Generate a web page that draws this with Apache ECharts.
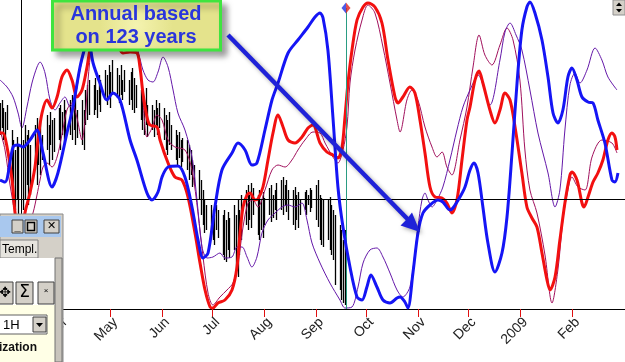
<!DOCTYPE html>
<html><head><meta charset="utf-8">
<script src="https://cdn.jsdelivr.net/npm/echarts@6/dist/echarts.min.js"></script>
<style>html,body{margin:0;padding:0;background:#fff}#c{width:625px;height:362px}</style>
</head><body><div id="c"></div><script>
// x = days since 2008-02-25 ; y = cycle index (0 = bottom of chart)
const baseDate = Date.UTC(2008, 1, 25);
const monthStarts = ['2008-03-01','2008-04-01','2008-05-01','2008-06-01','2008-07-01','2008-08-01','2008-09-01','2008-10-01','2008-11-01','2008-12-01','2009-01-01','2009-02-01'];
const monthNames = ['Jan','Feb','Mar','Apr','May','Jun','Jul','Aug','Sep','Oct','Nov','Dec'];

// thick blue: annual cycle based on 123 years
const blueCycle = [[0,129],[3.0,127],[7.8,162],[10.8,164],[13.7,162],[17.9,169],[22.1,179],[25.7,156],[31.1,122],[34.6,136],[40.0,176],[43.6,202],[47.8,242],[50.8,262],[52.6,271],[55.6,246],[59.7,226],[63.9,209],[67.5,216],[71.7,209],[77.7,169],[81.8,149],[87.8,116],[90.8,109],[94.4,117],[96.8,132],[100.4,142],[106.3,143],[110.5,132],[114.7,102],[118.3,69],[121.3,51],[124.3,56],[128.4,102],[132.6,139],[138.6,156],[142.2,166],[146.4,159],[150.5,144],[153.5,146],[158.3,179],[162.5,209],[166.1,226],[172.1,256],[178.0,269],[184.0,282],[188.2,292],[191.2,296],[193.0,291],[195.9,259],[198.9,192],[201.9,122],[204.9,82],[209.1,42],[213.3,12],[216.3,9],[219.2,22],[221.6,34],[225.2,22],[228.8,9],[233.0,6],[237.2,11],[239.0,12],[241.9,7],[243.7,1],[246.7,36],[249.7,76],[252.7,96],[256.9,104],[261.7,109],[264.6,107],[268.8,99],[270.6,101],[274.8,112],[277.8,122],[280.8,139],[283.2,146],[285.6,136],[288.5,102],[291.5,66],[295.7,37],[299.9,56],[302.9,92],[305.9,156],[308.9,226],[311.8,279],[314.8,302],[316.6,307],[319.6,296],[323.8,269],[327.4,232],[330.4,196],[333.3,186],[336.3,199],[339.3,232],[341.7,241],[344.7,229],[347.7,212],[351.3,207],[354.3,206],[357.2,189],[361.4,166],[365.6,129],[367.4,127],[369.2,136]];

// thick red cycle
const redCycle = [[0,176],[1.8,176],[4.2,162],[7.2,129],[9.0,96],[11.9,64],[14.9,96],[17.9,116],[20.9,142],[22.7,169],[25.1,196],[28.1,209],[31.1,201],[34.1,212],[37.0,232],[40.0,239],[43.0,229],[46.0,212],[49.0,219],[52.0,242],[53.8,259],[57.9,279],[62.7,284],[68.7,274],[73.5,256],[77.7,257],[81.8,256],[83.6,242],[85.4,216],[87.8,192],[89.6,184],[93.8,182],[95.6,169],[100.4,146],[104.5,132],[108.7,129],[112.3,112],[116.5,76],[119.5,46],[122.5,19],[125.5,2],[127.2,1],[130.2,6],[134.4,9],[138.6,19],[141.6,42],[143.4,76],[145.2,102],[147.6,114],[149.4,116],[152.3,109],[154.1,110],[157.1,122],[160.1,149],[163.1,176],[166.1,194],[169.1,182],[172.1,169],[176.2,166],[180.4,172],[184.0,181],[187.0,184],[191.2,166],[195.3,157],[198.9,154],[201.9,151],[204.3,161],[206.1,192],[207.9,226],[210.3,259],[213.3,289],[216.9,302],[219.8,306],[224.0,302],[228.2,286],[231.8,249],[236.0,212],[237.8,206],[240.7,212],[244.9,222],[247.9,216],[250.9,189],[253.9,156],[256.9,122],[259.9,112],[264.1,111],[267.0,106],[270.0,96],[273.0,109],[276.0,149],[279.0,189],[280.8,202],[283.8,229],[286.2,238],[288.5,226],[292.7,199],[295.7,186],[298.7,199],[301.7,216],[304.7,209],[307.7,182],[311.8,136],[314.8,102],[317.8,91],[320.8,82],[323.8,56],[326.8,29],[328.6,19],[331.6,32],[334.5,69],[337.5,106],[340.5,134],[341.7,137],[344.7,129],[347.7,106],[348.9,102],[351.3,112],[354.3,127],[357.2,136],[360.2,149],[363.2,169],[365.6,176],[367.4,172],[368.6,159]];

// thin purple cycle
const purpleCycle = [[0,229],[4.2,222],[7.8,212],[10.8,196],[13.1,181],[16.1,202],[19.1,226],[22.1,242],[23.9,247],[26.9,236],[29.9,209],[32.9,199],[35.8,206],[38.8,212],[41.8,202],[44.8,212],[47.8,239],[50.8,259],[56.8,279],[65.7,289],[74.7,274],[82.4,256],[85.4,239],[88.4,229],[91.4,227],[94.4,237],[97.4,252],[100.4,242],[103.4,219],[106.3,196],[110.5,179],[114.7,152],[117.7,109],[120.7,62],[123.7,51],[127.2,52],[131.4,56],[134.4,51],[138.6,52],[141.6,62],[144.6,62],[147.6,52],[150.5,42],[153.5,52],[156.5,76],[160.1,89],[164.3,96],[168.5,102],[172.1,104],[176.2,102],[180.4,106],[183.4,89],[186.4,66],[191.2,46],[197.1,26],[203.1,9],[206.1,1],[210.3,2],[213.9,22],[216.9,46],[221.0,59],[225.2,61],[228.8,52],[233.0,36],[237.2,19],[240.7,12],[244.9,22],[247.9,56],[249.7,82],[252.1,109],[253.9,116],[255.7,109],[258.1,102],[261.1,109],[264.6,122],[268.8,149],[273.0,179],[276.6,202],[280.8,219],[285.6,234],[292.7,204],[298.7,249],[301.7,277],[304.7,286],[308.3,274],[311.8,259],[316.6,219],[321.4,176],[327.4,136],[331.6,102],[334.5,119],[337.5,179],[340.5,224],[343.5,236],[346.5,226],[350.7,239],[355.5,261],[359.6,249],[363.2,232],[368.6,219]];

// thin maroon cycle
const maroonCycle = [[0,179],[3.0,159],[6.0,124],[9.0,96],[13.1,64],[19.7,96],[22.1,114],[23.9,129],[25.7,142],[28.1,146],[31.1,142],[34.1,152],[37.0,174],[40.0,199],[43.0,206],[46.0,191],[49.0,169],[50.8,189],[52.6,229],[55.0,264],[59.7,284],[66.9,289],[74.7,279],[82.4,259],[85.4,209],[87.8,172],[90.8,181],[93.8,194],[96.8,189],[100.4,169],[104.5,162],[110.5,159],[114.7,139],[118.3,96],[121.3,52],[124.3,16],[127.2,4],[131.4,12],[135.6,19],[139.2,26],[142.2,46],[145.2,82],[148.2,106],[151.1,109],[154.1,102],[158.3,119],[162.5,139],[166.1,144],[170.3,142],[174.4,149],[178.0,159],[182.2,169],[187.0,177],[191.2,176],[194.2,166],[198.9,152],[201.9,146],[204.9,159],[207.3,182],[209.1,226],[212.1,259],[216.3,289],[219.8,304],[224.0,296],[228.8,262],[233.0,226],[237.2,189],[239.0,177],[243.1,209],[246.1,219],[249.7,209],[253.9,182],[258.1,162],[261.1,152],[264.1,157],[267.0,142],[270.0,134],[274.8,169],[279.0,202],[282.6,242],[286.2,274],[289.7,254],[293.9,244],[298.7,264],[302.9,281],[306.5,269],[310.6,229],[313.6,159],[316.6,119],[320.8,96],[325.6,54],[329.8,6],[333.3,39],[336.3,89],[338.7,114],[341.7,132],[345.3,122],[349.5,119],[353.7,152],[359.6,169],[365.6,166],[368.6,156]];

// daily price bars (trading days from 2008-02-25)
const barStart = '2008-02-25';
const barHigh = [206,209,201,197,204, 179,169,159,172,164, 169,184,174,179,164, 184,191,179,187,174, 194,184,197,189,191,
 201,204,197,209,199, 209,214,204,211,199, 209,199,219,224,229, 224,231,219,234,229, 239,234,244,237,249,
 241,234,244,229,239, 229,237,241,231,224, 219,214,209,221,204, 204,199,209,201,206, 201,194,189,197,184,
 179,174,177,169,171, 169,164,159,149,144, 139,129,119,109,104, 104,99,94,104,99, 94,99,89,97,91,
 104,94,109,99,114, 119,124,114,126,121, 114,119,109,117,111, 121,124,114,119,126, 129,132,124,129,119,
 119,122,114,117,109, 117,119,114,121,119, 124,129,114,111,109, 109,112,104,99,94, 84,79,69,79];
const barLow = [174,181,169,164,179, 129,104,99,109,94, 99,109,124,104,114, 139,124,144,134,149, 159,144,164,149,157,
 169,159,174,164,171, 174,169,179,164,171, 164,159,184,189,194, 194,199,191,204,197, 209,204,211,201,214,
 211,206,214,209,217, 204,209,199,196,201, 189,179,174,184,172, 179,172,184,174,181, 169,159,154,164,159,
 149,144,151,142,147, 139,129,134,122,124, 109,94,84,76,79, 74,69,64,79,71, 54,49,47,59,51,
 59,39,32,54,69, 84,79,89,81,94, 74,69,79,71,84, 94,87,91,99,89, 99,94,104,97,89,
 84,79,89,81,94, 99,94,104,97,101, 89,82,69,64,62, 69,59,54,49,24, 19,9,6,4];

const zeroLine = 110;       // horizontal reference level
const markerDay = 12.5;     // black vertical marker
const todayDay = 206.7;     // green "today" line
const todayTop = 301;

// ---- build ----
const DAY = 864e5;
const tickDays = monthStarts.map(s => Math.round((Date.parse(s) - baseDate) / DAY));
const labelDays = tickDays.map(d => d + 3); // labels sit just right of their tick
const barData = [];
{
  let d = Math.round((Date.parse(barStart) - baseDate) / DAY), i = 0;
  while (i < barHigh.length) {
    const wd = new Date(baseDate + d * DAY).getUTCDay();
    if (wd !== 0 && wd !== 6) { barData.push([d, barHigh[i], barLow[i]]); i++; }
    d++;
  }
}
const F = '"Liberation Sans", Arial, sans-serif';
const chart = echarts.init(document.getElementById('c'), null, {renderer: 'canvas'});
const Z = 100;
function btn(x, y, w, h, fill) {
  return {type: 'rect', z: Z, shape: {x, y, width: w, height: h}, style: {fill: fill || '#d4d0c8', stroke: '#404040', lineWidth: 1}};
}
function txt(x, y, t, font, fill, align) {
  return {type: 'text', z: Z + 1, x, y, style: {text: t, font, fill: fill || '#000', align: align || 'left', verticalAlign: 'middle'}};
}
const graphics = [
  // annotation box
  {type: 'rect', z: Z, shape: {x: 52.5, y: 1, width: 168, height: 49},
   style: {fill: new echarts.graphic.RadialGradient(0.5, 0.5, 0.7, [{offset: 0, color: '#f4f3b0'}, {offset: 1, color: '#e4e38c'}]),
           stroke: '#3fe43f', lineWidth: 3, shadowBlur: 6, shadowOffsetX: 5, shadowOffsetY: 5, shadowColor: 'rgba(0,0,0,0.35)'}},
  txt(136, 14, 'Annual based', 'bold 20px ' + F, '#2a35dc', 'center'),
  txt(136, 37, 'on 123 years', 'bold 20px ' + F, '#2a35dc', 'center'),
  // arrow
  {type: 'line', z: Z, shape: {x1: 228, y1: 35, x2: 408, y2: 219.5},
   style: {stroke: '#1f22d8', lineWidth: 4.5, shadowBlur: 4, shadowOffsetX: 2, shadowOffsetY: 2, shadowColor: 'rgba(0,0,0,0.35)'}},
  {type: 'polygon', z: Z, shape: {points: [[420, 232], [400.5, 225.5], [406, 220], [412, 212.5]]},
   style: {fill: '#1f22d8', shadowBlur: 4, shadowOffsetX: 2, shadowOffsetY: 2, shadowColor: 'rgba(0,0,0,0.35)'}},
  // top-right scroll widget
  {type: 'rect', z: Z, shape: {x: 613, y: 0, width: 12, height: 15}, style: {fill: '#d4d0c8', stroke: '#909090', lineWidth: 1}},
  {type: 'polygon', z: Z + 1, shape: {points: [[616, 6], [622, 6], [619, 2.5]]}, style: {fill: '#000'}},
  {type: 'polygon', z: Z + 1, shape: {points: [[616, 9], [622, 9], [619, 12.5]]}, style: {fill: '#000'}},
  // bottom-left dialog panel
  {type: 'rect', z: Z, shape: {x: 0, y: 214, width: 63, height: 150}, style: {fill: '#d4d0c8', stroke: '#8a8a8a', lineWidth: 1}},
  {type: 'rect', z: Z, shape: {x: 0, y: 216, width: 61, height: 21}, style: {fill: '#a9c8ee'}},
  btn(12, 220, 11, 13), txt(17.5, 227, '_', 'bold 11px ' + F, '#000', 'center'),
  btn(25, 220, 12, 13), {type: 'rect', z: Z + 1, shape: {x: 27.5, y: 222.5, width: 7, height: 8}, style: {fill: 'none', stroke: '#000', lineWidth: 1.5}},
  btn(44, 220, 15, 13), txt(51.5, 226.5, '✕', 'bold 11px "DejaVu Sans"', '#000', 'center'),
  {type: 'rect', z: Z, shape: {x: 0, y: 240, width: 38, height: 18}, style: {fill: '#e6e4de', stroke: '#808080', lineWidth: 1}},
  txt(2, 249.5, 'Templ.', '12px ' + F, '#000'),
  {type: 'rect', z: Z, shape: {x: 0, y: 258, width: 55, height: 48}, style: {fill: '#ffffff'}},
  {type: 'rect', z: Z, shape: {x: 0, y: 305, width: 55, height: 57}, style: {fill: '#ffffe6'}},
  {type: 'rect', z: Z, shape: {x: 55, y: 258, width: 7, height: 104}, style: {fill: '#c8c4bc', stroke: '#707070', lineWidth: 1}},
  btn(-2, 282, 15, 22), txt(5, 293, '✥', '14px "DejaVu Sans"', '#000', 'center'),
  btn(16, 282, 17, 22), txt(24.5, 293, 'Σ', '17px "DejaVu Sans"', '#000', 'center'),
  btn(38, 282, 16, 22), txt(46, 291, '×', '8px ' + F, '#000', 'center'),
  {type: 'rect', z: Z, shape: {x: -1, y: 315, width: 48, height: 19}, style: {fill: '#ffffff', stroke: '#606060', lineWidth: 1}},
  txt(3, 325, '1H', '13px ' + F, '#000'),
  btn(33, 317, 13, 15),
  {type: 'polygon', z: Z + 1, shape: {points: [[36, 323], [43, 323], [39.5, 327]]}, style: {fill: '#000'}},
  txt(-1, 348, 'ization', 'bold 12px ' + F, '#111')
];

chart.setOption({
  animation: false,
  textStyle: {fontFamily: F},
  grid: {left: 0, right: 0, top: 0, bottom: 53, containLabel: false, outerBoundsMode: 'none'},
  xAxis: {
    type: 'value', min: 0, max: 373.4,
    splitLine: {show: false},
    axisLine: {show: true, onZero: false, lineStyle: {color: '#000', width: 1}},
    axisTick: {show: true, customValues: tickDays, length: 8, lineStyle: {color: '#e01010', width: 1}},
    axisLabel: {show: true, customValues: labelDays, rotate: 45, margin: 11, fontSize: 14, color: '#222', fontFamily: F,
      padding: [12, 0, 0, 0], hideOverlap: false,
      formatter: v => { const d = new Date(baseDate + Math.round(v) * DAY); return d.getUTCMonth() === 0 ? String(d.getUTCFullYear()) : monthNames[d.getUTCMonth()]; }}
  },
  yAxis: {type: 'value', min: 0, max: 309, show: false, splitLine: {show: false}},
  series: [
    {
      type: 'custom', name: 'price', z: 1, data: barData, encode: {x: 0, y: [1, 2]}, clip: true,
      renderItem: (params, api) => {
        const x = api.value(0);
        const hi = api.coord([x, api.value(1)]), lo = api.coord([x, api.value(2)]);
        return {type: 'line', shape: {x1: Math.round(hi[0]) + 0.5, y1: hi[1], x2: Math.round(lo[0]) + 0.5, y2: lo[1]}, style: {stroke: '#000', lineWidth: 1.3}};
      },
      markLine: {
        silent: true, symbol: ['none', 'none'], label: {show: false},
        data: [
          {yAxis: zeroLine, lineStyle: {color: '#000', width: 1, type: 'solid'}},
          {xAxis: markerDay, lineStyle: {color: '#000', width: 1, type: 'solid'}},
          [{coord: [todayDay, todayTop], lineStyle: {color: '#2a9c82', width: 1, type: 'solid'}}, {coord: [todayDay, 0]}]
        ]
      }
    },
    {type: 'line', name: 'maroon', z: 3, data: maroonCycle, smooth: 0.3, showSymbol: false, lineStyle: {color: '#a0105c', width: 1}},
    {type: 'line', name: 'purple', z: 3, data: purpleCycle, smooth: 0.3, showSymbol: false, lineStyle: {color: '#6418a8', width: 1}},
    {type: 'line', name: 'red', z: 4, data: redCycle, smooth: 0.3, showSymbol: false, lineStyle: {color: '#f21010', width: 3}},
    {type: 'line', name: 'blue', z: 5, data: blueCycle, smooth: 0.3, showSymbol: false, lineStyle: {color: '#1515f5', width: 3}},
    {type: 'scatter', z: 6, data: [[todayDay, todayTop]], symbol: 'diamond', symbolSize: [9, 11], silent: true,
     itemStyle: {color: new echarts.graphic.LinearGradient(0, 0, 1, 0, [{offset: 0, color: '#2030e0'}, {offset: 0.5, color: '#2030e0'}, {offset: 0.5, color: '#e02020'}, {offset: 1, color: '#e02020'}])}}
  ],
  graphic: graphics
});
</script></body></html>
